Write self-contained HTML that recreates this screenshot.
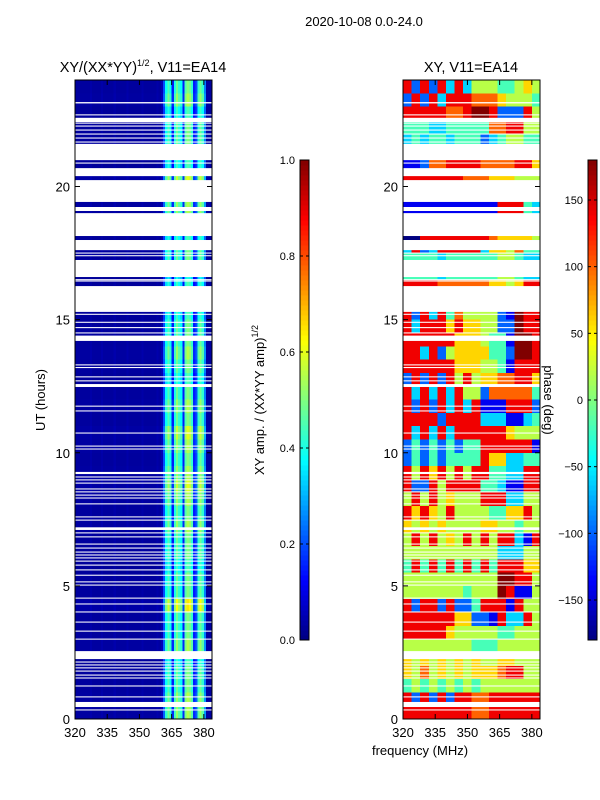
<!DOCTYPE html>
<html><head><meta charset="utf-8"><style>
body{margin:0;background:#fff;}
svg{display:block;font-family:"Liberation Sans",sans-serif;}
</style></head><body>
<svg id="fig" width="600" height="800" viewBox="0 0 600 800">
<text x="364" y="26" font-size="13" text-anchor="middle">2020-10-08 0.0-24.0</text>
<text x="143" y="72" font-size="14.5" text-anchor="middle">XY/(XX*YY)<tspan font-size="9" dy="-6">1/2</tspan><tspan dy="6">, V11=EA14</tspan></text>
<text x="471" y="72" font-size="14.5" text-anchor="middle">XY, V11=EA14</text>
<g id="left"></g>
<g id="right"></g>
<g id="axes"></g>
<text x="420" y="755" font-size="13" text-anchor="middle">frequency (MHz)</text>
<text transform="translate(45,400) rotate(-90)" font-size="13" text-anchor="middle">UT (hours)</text>
<text transform="translate(264,400) rotate(-90)" font-size="13" text-anchor="middle">XY amp. / (XX*YY amp)<tspan font-size="9" dy="-6">1/2</tspan></text>
<text transform="translate(544,400) rotate(90)" font-size="13" text-anchor="middle">phase (deg)</text>
</svg>
<script>
const freqCols = [];
for (let f = 320; f < 384; f++) freqCols.push(f);
const ampCol = [0.03,0.03,0.03,0.03,0.03,0.03,0.03,0.04,0.03,0.03,0.03,0.03,0.04,0.03,0.03,0.03,0.03,0.03,0.04,0.03,0.03,0.03,0.03,0.03,0.04,0.03,0.03,0.03,0.03,0.03,0.03,0.04,0.03,0.03,0.03,0.03,0.03,0.03,0.04,0.03,0.05,0.2,0.38,0.45,0.38,0.15,0.4,0.48,0.42,0.38,0.15,0.45,0.5,0.48,0.42,0.15,0.2,0.42,0.48,0.42,0.25,0.03,0.03,0.03];
const ampRowGain = [1.0,1.1,0.9,1.0,1.0,0.9,0.9,1.2,1.0,1.1,0.9,0.9,1.0,1.0,0.8,0.9,0.9,0.9,1.0,1.0,1.1,1.0,0.9,1.0,1.1,1.0,1.2,1.1,1.0,1.1,1.2,1.1,1.0,1.1,1.0,1.0,0.9,1.0,1.0,1.3,1.0,1.0,1.1,0.9,1.0,1.0,1.1,1.1];
// phase grid: rows from 24h down to 0h (0.5h each), 16 cols of 4 MHz, digit d -> -180+d*40
const phaseRows = [
"8282838355544565","2828388877765554","8888877899822285","4443344444778855",
"3434434442345544","3434434442345544","1127788887777886","8888888777666555",
"8888888777666555","1111111111188843","1111111111188843","0088888888766665",
"3823888883665744","4444344444455433","4444344444455433","8888777777665688",
"8888777777665688","8283847555521988","8388868665522988","8888886665441998",
"8838256666442998","8888886665541888","2828285856677886","8383838552777774",
"8282838381118882","8888288883331134","8383838888886555","2424242448888881",
"2424244448663344","8586858588443388","8228588884431188","5858565558883355",
"8686585555446685","6565655556655455","5858565858588318","5555555555533355",
"4848484848488866","5555555555599885","5555555455598115","8288282248881855",
"8888886622183385","8888865555544555","5555555544455555","6565656565566555",
"6575656566678855","4545454545555555","8282828877888888","8888888877888888"];
const blankStart = [23.12,22.67,22.42,22.36,22.25,22.1,21.95,21.8,21.65,20.99,20.86,20.39,19.42,19.08,18.14,17.61,17.48,17.38,16.6,16.48,16.43,15.29,15.18,14.88,14.68,14.48,14.2,13.28,13.18,12.83,12.68,12.47,11.73,11.55,10.72,10.23,10.12,9.2,9.07,8.96,8.84,8.62,8.51,8.39,8.28,8.06,7.57,7.45,7.1,6.97,6.82,6.55,6.4,6.25,6.14,6.03,5.91,5.76,5.58,5.38,5.13,5.01,4.52,4.3,4.0,3.62,3.28,2.98,2.25,2.12,2.01,1.9,1.78,1.63,1.52,1.22,0.81,0.45,0.32];
const blankEnd   = [23.17,22.71,22.58,22.4,22.29,22.14,21.99,21.84,21.69,21.6,20.9,20.69,20.24,19.23,19.0,17.99,17.52,17.42,17.24,16.52,16.47,16.26,15.22,14.92,14.72,14.52,14.4,13.32,13.22,12.87,12.72,12.58,11.77,11.59,10.76,10.27,10.16,9.28,9.11,9.0,8.88,8.66,8.55,8.43,8.32,8.1,7.61,7.49,7.2,7.01,6.86,6.59,6.44,6.29,6.18,6.07,5.95,5.8,5.62,5.42,5.17,5.05,4.56,4.34,4.04,3.66,3.32,3.02,2.55,2.16,2.05,1.94,1.82,1.67,1.56,1.26,0.85,0.64,0.36];
const utTicks = [0,5,10,15,20];
const freqTicks = [320,335,350,365,380];
const ampTicks = [0.0,0.2,0.4,0.6,0.8,1.0];
const phaseTicks = [-150,-100,-50,0,50,100,150];

const NS = "http://www.w3.org/2000/svg";
const yTop = 80, yBot = 719, pxPerHour = (yBot - yTop) / 24;
const pxPerMHz = 137 / 63.8;
const yScale = ut => yBot - ut * pxPerHour;
const xScaleL = f => 75 + (f - 320) * pxPerMHz;
const xScaleR = f => 403 + (f - 320) * pxPerMHz;
function jet(v){
  v = Math.max(0, Math.min(1, v));
  const r = Math.max(0, Math.min(1, 1.5 - Math.abs(4*v - 3)));
  const g = Math.max(0, Math.min(1, 1.5 - Math.abs(4*v - 2)));
  const b = Math.max(0, Math.min(1, 1.5 - Math.abs(4*v - 1)));
  return `rgb(${Math.round(r*255)},${Math.round(g*255)},${Math.round(b*255)})`;
}
function mk(tag, attrs, parent){
  const e = document.createElementNS(NS, tag);
  for (const k in attrs) e.setAttribute(k, attrs[k]);
  parent.appendChild(e); return e;
}
const L = document.getElementById('left'), R = document.getElementById('right'), A = document.getElementById('axes');
const nRows = phaseRows.length, rowH = 24 / nRows;
for (let r = 0; r < nRows; r++) {
  const utHi = 24 - r * rowH, utLo = utHi - rowH;
  const y = yScale(utHi), h = yScale(utLo) - y;
  for (let c = 0; c < freqCols.length; c++) {
    const v = ampCol[c] * ampRowGain[r];
    const x = xScaleL(freqCols[c]);
    const el = mk('rect', {x: x, y: y, width: pxPerMHz + 0.3, height: h + 0.3, fill: jet(v), 'shape-rendering': 'crispEdges'}, L);
    
    
  }
  const row = phaseRows[r];
  for (let c = 0; c < row.length; c++) {
    const ph = -180 + (+row[c]) * 40;
    const x = xScaleR(320 + c * 4);
    const el = mk('rect', {x: x, y: y, width: 4 * pxPerMHz + 0.3, height: h + 0.3, fill: jet((ph + 180) / 360), 'shape-rendering': 'crispEdges'}, R);
    
    
  }
}
for (let i = 0; i < blankStart.length; i++) {
  const y = yScale(blankEnd[i]), h = yScale(blankStart[i]) - y;
  for (const x0 of [75, 403]) {
    const el = mk('rect', {x: x0, y: y, width: 137, height: Math.max(1, h), fill: '#fff'}, A);
    
    
  }
}
for (const x0 of [75, 403]) {
  const fr = mk('rect', {x: x0, y: yTop, width: 137, height: yBot - yTop, fill: 'none', stroke: '#000', 'stroke-width': 1}, A);
  
  
  const xs = x0 === 75 ? xScaleL : xScaleR;
  for (const t of utTicks) {
    const y = yScale(t);
    mk('line', {x1: x0, x2: x0 + 5, y1: y, y2: y, stroke: '#000'}, A);
    mk('line', {x1: x0 + 137, x2: x0 + 132, y1: y, y2: y, stroke: '#000'}, A);
    const tl = mk('text', {x: x0 - 5, y: y + 5, 'font-size': 13, 'text-anchor': 'end'}, A);
    tl.textContent = t;
    
    
  }
  for (const t of freqTicks) {
    const x = xs(t);
    mk('line', {x1: x, x2: x, y1: yBot, y2: yBot - 5, stroke: '#000'}, A);
    mk('line', {x1: x, x2: x, y1: yTop, y2: yTop + 5, stroke: '#000'}, A);
    const tl = mk('text', {x: x, y: 737, 'font-size': 13, 'text-anchor': 'middle'}, A);
    tl.textContent = t;
    
    
  }
}
function colorbar(x0, lo, hi, ticks, name){
  const n = 96, y0 = 160, H = 480;
  for (let i = 0; i < n; i++) {
    const el = mk('rect', {x: x0, y: y0 + H - (i + 1) * H / n, width: 9, height: H / n + 0.5, fill: jet((i + 0.5) / n), 'shape-rendering': 'crispEdges'}, A);
    
    
  }
  const fr = mk('rect', {x: x0, y: y0, width: 9, height: H, fill: 'none', stroke: '#000'}, A);
  
  
  for (const t of ticks) {
    const y = y0 + H - (t - lo) / (hi - lo) * H;
    mk('line', {x1: x0, x2: x0 + 3, y1: y, y2: y, stroke: '#000'}, A);
    mk('line', {x1: x0 + 9, x2: x0 + 6, y1: y, y2: y, stroke: '#000'}, A);
    const tl = mk('text', {x: x0 - 5, y: y + 4, 'font-size': 11, 'text-anchor': 'end'}, A);
    tl.textContent = name === 'amp-colorbar' ? t.toFixed(1) : String(t).replace('-', '\u2212');
    
    
  }
}
colorbar(300, 0, 1, ampTicks, 'amp-colorbar');
colorbar(588, -180, 180, phaseTicks, 'phase-colorbar');
</script>
</body></html>
